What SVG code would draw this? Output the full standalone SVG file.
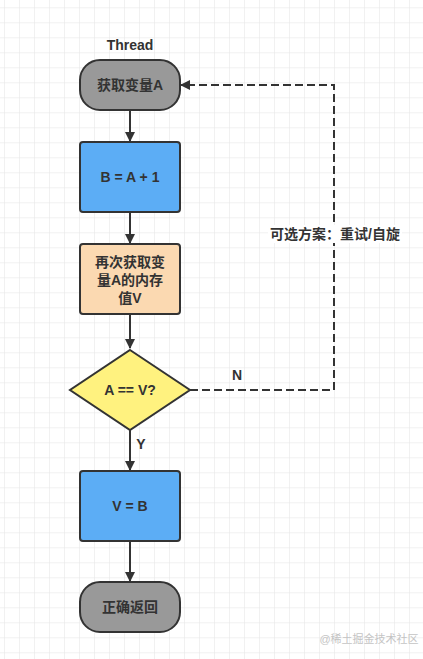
<svg xmlns="http://www.w3.org/2000/svg" width="423" height="659" viewBox="0 0 423 659">
<defs>
<pattern id="grid" x="4" y="7.3" width="15" height="15" patternUnits="userSpaceOnUse">
<path d="M0 0H15M0 0V15" fill="none" stroke="#e3e3e3" stroke-width="1"/>
</pattern>
<marker id="arr" viewBox="0 0 10 10" refX="9" refY="5" markerWidth="5" markerHeight="5" orient="auto" markerUnits="strokeWidth">
<path d="M0 0L10 5L0 10Z" fill="#333"/>
</marker>
</defs>
<style>
text{font-family:"Liberation Sans","Noto Sans CJK SC",sans-serif;font-weight:bold;fill:#333;text-anchor:middle;dominant-baseline:central}
.n{stroke:#333;stroke-width:2}
.c{fill:none;stroke:#333;stroke-width:2}
.t{font-size:14px}
.l{font-size:14px}
</style>
<rect width="423" height="659" fill="#fff"/>
<rect width="423" height="659" fill="url(#grid)"/>
<text x="130" y="45" class="l">Thread</text>
<g id="connectors">
<line class="c" x1="130" y1="110" x2="130" y2="141" marker-end="url(#arr)"/>
<line class="c" x1="130" y1="212" x2="130" y2="243" marker-end="url(#arr)"/>
<line class="c" x1="130" y1="314" x2="130" y2="348" marker-end="url(#arr)"/>
<line class="c" x1="130" y1="430" x2="130" y2="470" marker-end="url(#arr)"/>
<line class="c" x1="130" y1="541" x2="130" y2="581" marker-end="url(#arr)"/>
<path class="c" d="M190 390H334V85H181" stroke-dasharray="8 4" marker-end="url(#arr)"/>
<text x="141" y="444" class="l">Y</text>
<text x="237" y="375" class="l">N</text>
<rect x="268" y="225" width="134" height="18" fill="#fff"/>
<text x="335" y="234" class="l">可选方案：重试/自旋</text>
</g>
<g id="n1">
<rect class="n" x="80" y="60" width="100" height="50" rx="20" fill="#999"/>
<text x="130" y="85" class="t">获取变量A</text>
</g>
<g id="n2">
<rect class="n" x="80" y="142" width="100" height="70" rx="3" fill="#5cadf5"/>
<text x="130" y="177" class="t">B = A + 1</text>
</g>
<g id="n3">
<rect class="n" x="80" y="244" width="100" height="70" rx="3" fill="#fbd9b1"/>
<text x="130" y="262" class="t">再次获取变</text>
<text x="130" y="280" class="t">量A的内存</text>
<text x="130" y="298" class="t">值V</text>
</g>
<g id="n4">
<path class="n" d="M130 350L190 390L130 430L70 390Z" fill="#fff27f"/>
<text x="130" y="390" class="t">A == V?</text>
</g>
<g id="n5">
<rect class="n" x="80" y="471" width="100" height="70" rx="3" fill="#5cadf5"/>
<text x="130" y="506" class="t">V = B</text>
</g>
<g id="n6">
<rect class="n" x="80" y="582" width="100" height="50" rx="20" fill="#999"/>
<text x="130" y="607" class="t">正确返回</text>
</g>
<text x="369" y="639" style="font-size:11px;font-weight:normal;fill:#c4c4c4">@稀土掘金技术社区</text>
</svg>
